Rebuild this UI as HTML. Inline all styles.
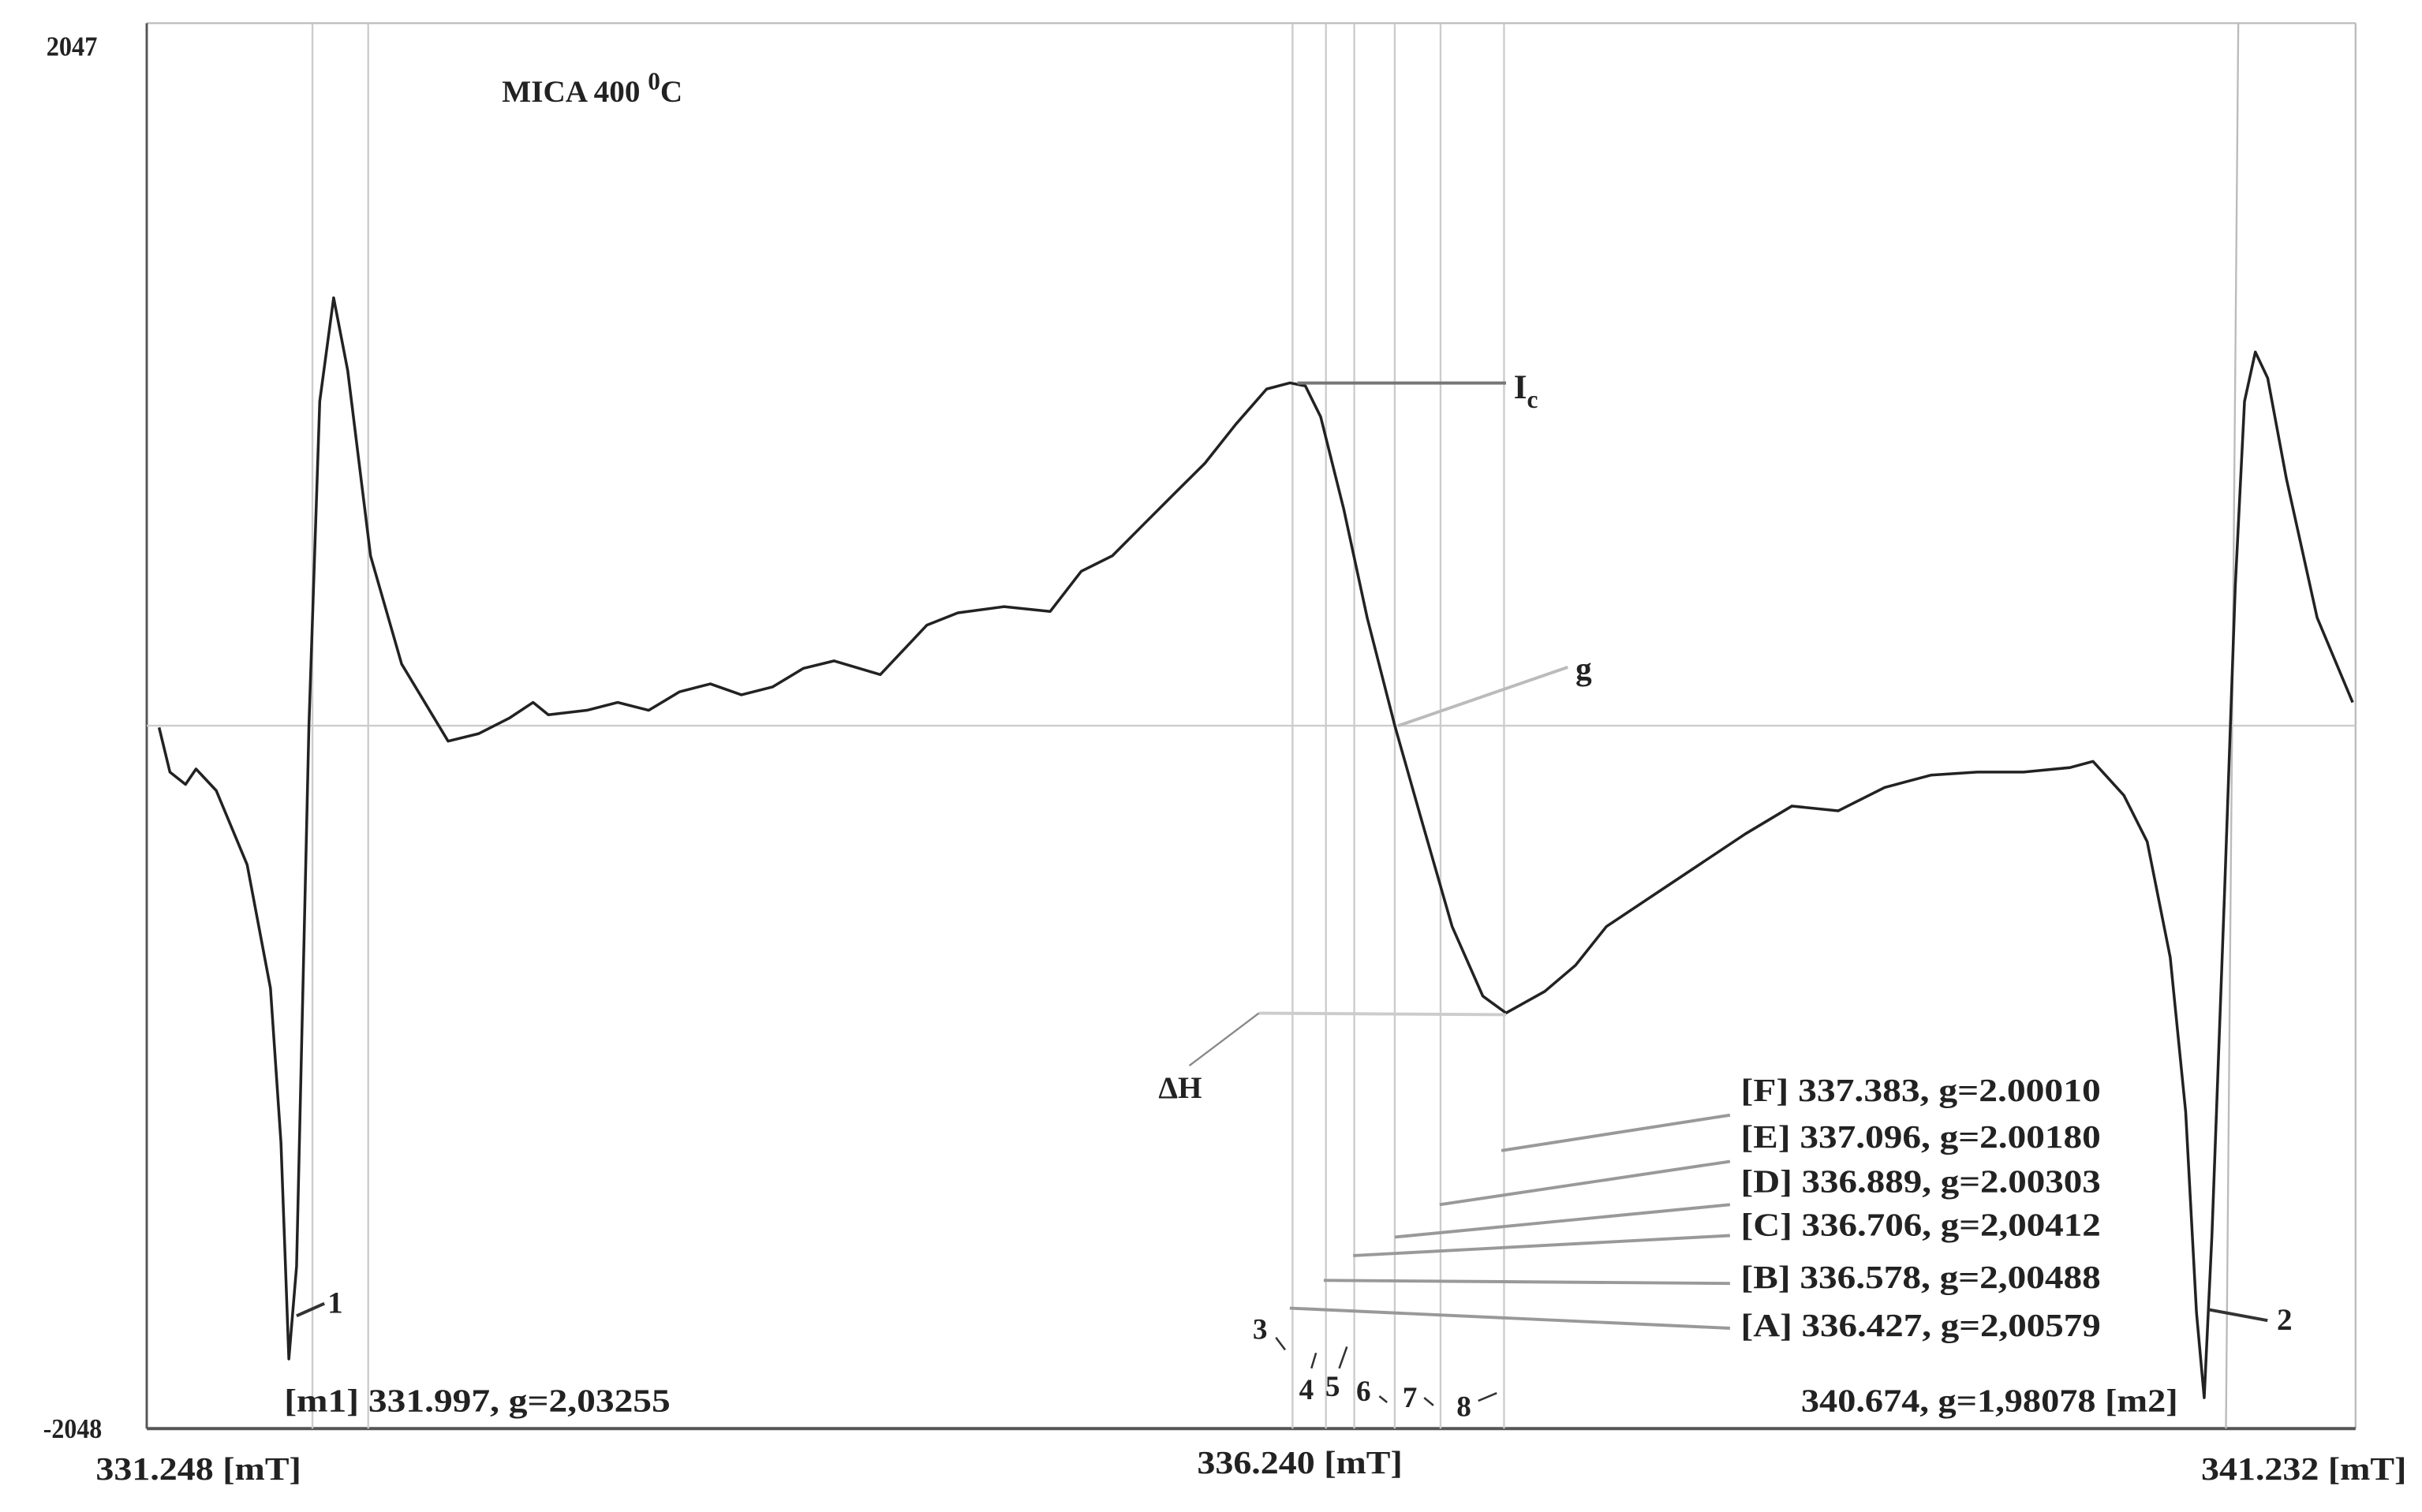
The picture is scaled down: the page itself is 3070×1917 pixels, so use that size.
<!DOCTYPE html>
<html><head><meta charset="utf-8"><style>
html,body{margin:0;padding:0;background:#fff;}
svg{display:block;}
text{font-family:"Liberation Serif",serif;font-weight:bold;fill:#222;}
</style></head><body>
<svg id="chart" width="3070" height="1917" viewBox="0 0 1568 979" preserveAspectRatio="none" xmlns="http://www.w3.org/2000/svg">
<g id="frame">
<line x1="95" y1="15" x2="1525" y2="15" stroke="#bbb" stroke-width="1.2"/>
<line x1="1525" y1="15" x2="1525" y2="925" stroke="#bbb" stroke-width="1.2"/>
<line x1="95" y1="15" x2="95" y2="925" stroke="#555" stroke-width="1.5"/>
<line x1="95" y1="925" x2="1525" y2="925" stroke="#555" stroke-width="2"/>
</g>
<g id="vlines"></g>
<line id="zero" stroke="#ccc" stroke-width="1.2"/>
<path id="curve" fill="none" stroke="#222" stroke-width="1.8" stroke-linejoin="round"/>
<g id="ann" stroke="#999" stroke-width="2" fill="none">
<line x1="840" y1="248" x2="975" y2="248" stroke="#777"/>
<line x1="905" y1="470" x2="1015" y2="432" stroke="#bbb"/>
<line x1="815" y1="656" x2="975" y2="657" stroke="#ccc"/>
<line x1="770" y1="690" x2="815" y2="656" stroke="#888" stroke-width="1.2"/>
<line x1="972" y1="745" x2="1120" y2="722"/>
<line x1="932" y1="780" x2="1120" y2="752"/>
<line x1="903" y1="801" x2="1120" y2="780"/>
<line x1="876" y1="813" x2="1120" y2="800"/>
<line x1="857" y1="829" x2="1120" y2="831"/>
<line x1="835" y1="847" x2="1120" y2="860"/>
<line x1="192" y1="852" x2="210" y2="844" stroke="#333"/>
<line x1="1430" y1="848" x2="1468" y2="855" stroke="#333"/>
<g stroke="#333" stroke-width="1.3">
<line x1="826" y1="866" x2="832" y2="874"/><line x1="852" y1="876" x2="849" y2="886"/><line x1="872" y1="872" x2="867" y2="886"/>
<line x1="893" y1="904" x2="898" y2="908"/><line x1="922" y1="905" x2="928" y2="910"/><line x1="957" y1="907" x2="969" y2="902"/>
</g>
</g>
<g>
<text x="30" y="36" font-size="18" textLength="33" lengthAdjust="spacingAndGlyphs">2047</text>
<text x="28" y="931" font-size="18" textLength="38" lengthAdjust="spacingAndGlyphs">-2048</text>
<text x="62" y="958" font-size="21" textLength="133" lengthAdjust="spacingAndGlyphs">331.248 [mT]</text>
<text x="775" y="954" font-size="21" textLength="133" lengthAdjust="spacingAndGlyphs">336.240 [mT]</text>
<text x="1425" y="958" font-size="21" textLength="133" lengthAdjust="spacingAndGlyphs">341.232 [mT]</text>
<text x="325" y="66" font-size="20">MICA 400 <tspan dy="-8" font-size="16">0</tspan><tspan dy="8">C</tspan></text>
<text x="980" y="258" font-size="22">I<tspan dy="6" font-size="16">c</tspan></text>
<text x="1020" y="440" font-size="21">g</text>
<text x="750" y="711" font-size="20">ΔH</text>
<text x="1127" y="713" font-size="21" textLength="233" lengthAdjust="spacingAndGlyphs">[F] 337.383, g=2.00010</text>
<text x="1127" y="743" font-size="21" textLength="233" lengthAdjust="spacingAndGlyphs">[E] 337.096, g=2.00180</text>
<text x="1127" y="772" font-size="21" textLength="233" lengthAdjust="spacingAndGlyphs">[D] 336.889, g=2.00303</text>
<text x="1127" y="800" font-size="21" textLength="233" lengthAdjust="spacingAndGlyphs">[C] 336.706, g=2,00412</text>
<text x="1127" y="834" font-size="21" textLength="233" lengthAdjust="spacingAndGlyphs">[B] 336.578, g=2,00488</text>
<text x="1127" y="865" font-size="21" textLength="233" lengthAdjust="spacingAndGlyphs">[A] 336.427, g=2,00579</text>
<text x="184" y="914" font-size="21" textLength="250" lengthAdjust="spacingAndGlyphs">[m1]  331.997, g=2,03255</text>
<text x="1166" y="914" font-size="21" textLength="244" lengthAdjust="spacingAndGlyphs">340.674, g=1,98078 [m2]</text>
<text x="212" y="850" font-size="20">1</text>
<text x="1474" y="861" font-size="20">2</text>
<text x="811" y="867" font-size="19">3</text>
<text x="841" y="906" font-size="19">4</text>
<text x="858" y="904" font-size="19">5</text>
<text x="878" y="907" font-size="19">6</text>
<text x="908" y="911" font-size="19">7</text>
<text x="943" y="917" font-size="19">8</text>
</g>
</svg>
<script>
const fieldMT=[331.304,331.353,331.423,331.471,331.562,331.702,331.807,331.855,331.890,331.925,331.981,332.030,332.093,332.156,332.260,332.400,332.505,332.610,332.749,332.889,332.994,333.063,333.238,333.377,333.517,333.657,333.796,333.936,334.076,334.215,334.355,334.564,334.774,334.914,335.123,335.332,335.472,335.612,335.751,335.891,336.031,336.170,336.310,336.415,336.485,336.554,336.659,336.764,336.889,337.008,337.148,337.287,337.392,337.567,337.706,337.846,338.055,338.265,338.474,338.684,338.893,339.103,339.312,339.522,339.731,339.941,340.045,340.185,340.290,340.394,340.464,340.513,340.548,340.583,340.639,340.688,340.730,340.779,340.835,340.919,341.058,341.219];
const intensity=[-5,-135,-171,-126,-189,-405,-765,-1215,-1845,-1575,0,945,1247,1035,495,180,68,-45,-23,23,68,32,45,68,45,99,122,90,113,167,189,149,293,329,347,333,450,495,585,675,765,878,981,999,990,900,630,315,0,-270,-585,-788,-837,-774,-698,-585,-495,-405,-315,-234,-248,-180,-144,-135,-135,-122,-104,-203,-338,-675,-1125,-1710,-1958,-1485,-495,405,945,1089,1013,720,315,68];
const markerFields=[331.997,332.249,336.427,336.578,336.706,336.889,337.096,337.383];
const xDomain=[331.248,341.232], yDomain=[-2048,2047];
const X=v=>95+(v-xDomain[0])/(xDomain[1]-xDomain[0])*1430;
const Y=v=>925-(v-yDomain[0])/(yDomain[1]-yDomain[0])*910;
const NS="http://www.w3.org/2000/svg";
const curve=document.getElementById('curve');
curve.setAttribute('d',fieldMT.map((f,i)=>(i?'L':'M')+X(f).toFixed(1)+','+Y(intensity[i]).toFixed(1)).join(''));
const z=document.getElementById('zero');
z.setAttribute('x1',X(xDomain[0]));z.setAttribute('x2',X(xDomain[1]));z.setAttribute('y1',Y(0));z.setAttribute('y2',Y(0));
const vg=document.getElementById('vlines');
markerFields.forEach(f=>{const l=document.createElementNS(NS,'line');


l.setAttribute('x1',X(f));l.setAttribute('x2',X(f));l.setAttribute('y1',15);l.setAttribute('y2',925);
l.setAttribute('stroke','#ccc');l.setAttribute('stroke-width','1.2');vg.appendChild(l);});
const m2=document.createElementNS(NS,'line');


m2.setAttribute('x1',X(340.674)+4);m2.setAttribute('x2',X(340.674)-4);m2.setAttribute('y1',15);m2.setAttribute('y2',925);
m2.setAttribute('stroke','#bbb');m2.setAttribute('stroke-width','1.2');vg.appendChild(m2);
</script>
</body></html>
